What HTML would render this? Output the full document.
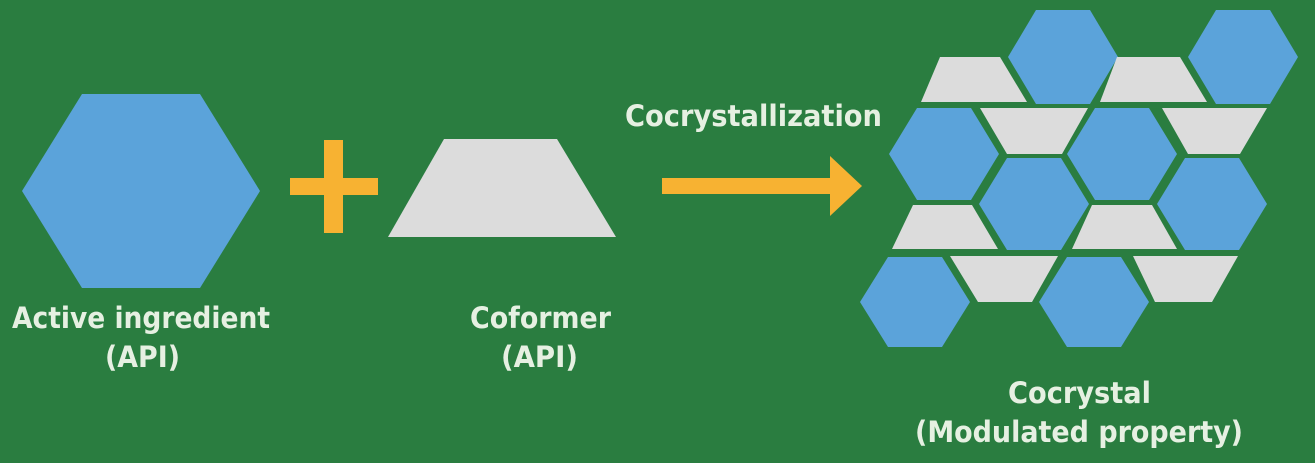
<!DOCTYPE html>
<html><head><meta charset="utf-8"><style>
html,body{margin:0;padding:0;background:#2a7d40;}
svg{display:block;}
text{font-family:"DejaVu Sans","Liberation Sans",sans-serif;font-weight:bold;font-size:29px;fill:#e6f0e2;}
</style></head><body>
<svg width="1315" height="463" viewBox="0 0 1315 463" xmlns="http://www.w3.org/2000/svg">
<rect width="1315" height="463" fill="#2a7d40"/>
<polygon points="82,94 200,94 260,191 200,288 82,288 22,191" fill="#5ba3da"/>
<rect x="290" y="178" width="88" height="17" fill="#f7b232"/>
<rect x="324" y="140" width="19" height="93" fill="#f7b232"/>
<polygon points="444,139 557,139 616,237 388,237" fill="#dcdcdc"/>
<rect x="662" y="178" width="172" height="16" fill="#f7b232"/>
<polygon points="830,156 862,186 830,216" fill="#f7b232"/>
<text x="625" y="126" textLength="257" lengthAdjust="spacingAndGlyphs">Cocrystallization</text>
<g fill="#5ba3da">
<polygon points="1036,10 1090,10 1118,57 1090,104 1036,104 1008,57"/>
<polygon points="1216,10 1270,10 1298,57 1270,104 1216,104 1188,57"/>
<polygon points="917,108 971,108 999,154 971,200 917,200 889,154"/>
<polygon points="1095,108 1149,108 1177,154 1149,200 1095,200 1067,154"/>
<polygon points="1007,158 1061,158 1089,204 1061,250 1007,250 979,204"/>
<polygon points="1185,158 1239,158 1267,204 1239,250 1185,250 1157,204"/>
<polygon points="888,257 942,257 970,302 942,347 888,347 860,302"/>
<polygon points="1067,257 1121,257 1149,302 1121,347 1067,347 1039,302"/>
</g>
<g fill="#dcdcdc">
<polygon points="940,57 1000,57 1027,102 921,102"/>
<polygon points="1117,57 1180,57 1207,102 1100,102"/>
<polygon points="980,108 1088,108 1062,154 1007,154"/>
<polygon points="1162,108 1267,108 1240,154 1188,154"/>
<polygon points="913,205 972,205 998,249 892,249"/>
<polygon points="1092,205 1152,205 1177,249 1072,249"/>
<polygon points="950,256 1058,256 1032,302 978,302"/>
<polygon points="1133,256 1238,256 1212,302 1155,302"/>
</g>
<text x="12" y="328" textLength="258" lengthAdjust="spacingAndGlyphs">Active ingredient</text>
<text x="105" y="367" textLength="75" lengthAdjust="spacingAndGlyphs">(API)</text>
<text x="470" y="328" textLength="141" lengthAdjust="spacingAndGlyphs">Coformer</text>
<text x="501" y="367" textLength="77" lengthAdjust="spacingAndGlyphs">(API)</text>
<text x="1008" y="403" textLength="143" lengthAdjust="spacingAndGlyphs">Cocrystal</text>
<text x="915" y="442" textLength="328" lengthAdjust="spacingAndGlyphs">(Modulated property)</text>
</svg>
</body></html>
